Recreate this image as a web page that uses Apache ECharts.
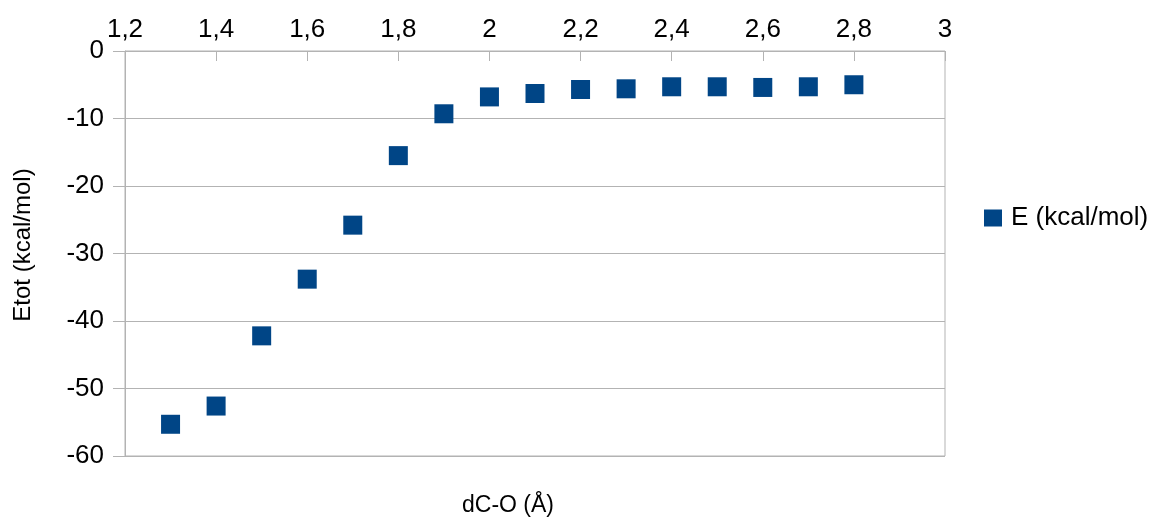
<!DOCTYPE html>
<html>
<head>
<meta charset="utf-8">
<script src="https://cdn.jsdelivr.net/npm/echarts@6/dist/echarts.min.js"></script>
<style>html,body{margin:0;padding:0;background:#fff;}#c{width:1154px;height:518px;}</style>
</head>
<body>
<div id="c"></div>
<script>
var distances = [1.3, 1.4, 1.5, 1.6, 1.7, 1.8, 1.9, 2.0, 2.1, 2.2, 2.3, 2.4, 2.5, 2.6, 2.7, 2.8];
var energies = [-55.3, -52.6, -42.2, -33.8, -25.8, -15.5, -9.3, -6.8, -6.3, -5.7, -5.6, -5.3, -5.3, -5.4, -5.3, -5.0];
var seriesName = 'E (kcal/mol)';
var xAxisTitle = 'dC-O (Å)';
var yAxisTitle = 'Etot (kcal/mol)';

var points = distances.map(function (d, i) { return [d, energies[i]]; });
var font = 'Liberation Sans, Arial, sans-serif';
var gridColor = '#b3b3b3';

var chart = echarts.init(document.getElementById('c'));
chart.setOption({
  animation: false,
  backgroundColor: '#ffffff',
  grid: { left: 125, right: 209, top: 51, bottom: 62, show: true, borderColor: gridColor, borderWidth: 1, backgroundColor: 'transparent' },
  legend: {
    data: [seriesName],
    left: 984, top: 205, padding: 0,
    icon: 'rect', itemWidth: 18, itemHeight: 17, itemGap: 10,
    textStyle: { fontFamily: font, fontSize: 26, color: '#000', padding: [0, 0, 0, 4] }
  },
  xAxis: {
    type: 'value', position: 'top', min: 1.2, max: 3, interval: 0.2,
    axisLine: { show: true, lineStyle: { color: gridColor } },
    axisTick: { show: true, inside: true, length: 10, lineStyle: { color: gridColor } },
    splitLine: { show: false },
    axisLabel: {
      margin: 8, fontFamily: font, fontSize: 26, color: '#000',
      formatter: function (v) { return String(Math.round(v * 10) / 10).replace('.', ','); }
    }
  },
  yAxis: {
    type: 'value', min: -60, max: 0, interval: 10,
    axisLine: { show: true, lineStyle: { color: gridColor } },
    axisTick: { show: true, inside: false, length: 12, lineStyle: { color: gridColor } },
    splitLine: { show: true, lineStyle: { color: gridColor } },
    axisLabel: { margin: 21, fontFamily: font, fontSize: 26, color: '#000' }
  },
  graphic: [
    { type: 'text', x: 508, y: 506, style: { text: xAxisTitle, x: 0, y: 0, align: 'center', verticalAlign: 'middle', font: '23px ' + font, fill: '#000' } },
    { type: 'text', x: 23, y: 245, rotation: Math.PI / 2, style: { text: yAxisTitle, x: 0, y: 0, align: 'center', verticalAlign: 'middle', font: '24px ' + font, fill: '#000' } }
  ],
  series: [{
    name: seriesName, type: 'scatter', data: points,
    symbol: 'rect', symbolSize: 19,
    itemStyle: { color: '#004586', opacity: 1 }
  }]
});
</script>
</body>
</html>
